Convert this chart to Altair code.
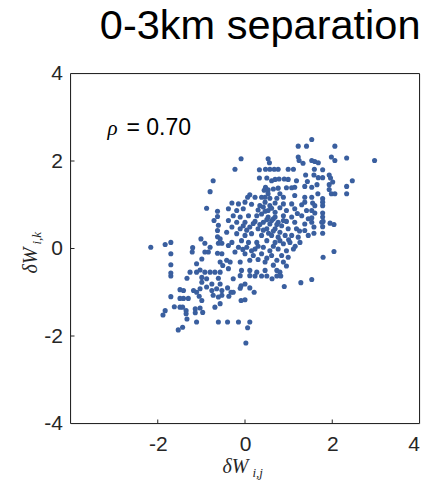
import altair as alt
import pandas as pd

# ---- data (delta W_ij , delta W_ik) ----
X = [-0.73, -0.80,
     1.22, 1.41, -0.09, 0.53, 0.56, 1.22, 1.24, 1.33, -0.23, 0.33, 0.47, 0.57, 0.67, 0.76, 0.99, 1.11, 0.33, 0.50,
     0.61, 0.69, 0.78, 0.90, 0.99, 1.18, 1.39, 1.43, 0.47, 0.44, 0.53, 0.65, 0.76, 0.95, 1.07, 1.14, 1.37, 0.53,
     0.80, 0.11, 0.06, 0.23, 0.38, 0.46, 0.57, 0.73, 0.88, 1.14, 1.37,
     1.53, 2.06, 1.98, 2.06, 2.33, 2.97, 1.53, 1.60, 1.68, 1.59, 1.78, 1.58, 1.68, 1.78, 1.93, 1.96, 2.01, 1.93,
     1.65, 1.53, 1.93, 2.33, 2.46, 1.67, 1.98, 2.06, 2.33, 1.53, 1.78,
     -0.88, -0.63, -0.63, -0.71, -0.61, -0.63, -0.63, -0.57, -0.61, -0.53, -1.01, -0.92, -0.80, -2.16, -1.83,
     -1.70, -1.70, -1.20, -1.21, -0.92, -0.84, -0.63, -0.53, -0.99, -1.11, -0.57, -0.51, -1.70, -1.70, -1.26,
     -1.03, -1.11, -0.92, -0.80, -0.69, -0.57,
     -0.30, -0.15, 0.00, 0.15, 0.46, 0.69, 0.88, 1.07, 1.37, -0.38, -0.19, -0.04, 0.30, 0.38, 0.53, 0.69, 0.80,
     0.95, 1.14, 1.41, -0.27, -0.11, 0.08, 0.27, 0.53, 0.65, 0.88, 1.07, 1.30, 1.45, -0.38, -0.19, 0.00, 0.23,
     0.42, 0.57, 0.76, 0.95, 1.14, 1.37, -0.30, -0.11, 0.11, 0.30, 0.50, 0.69, 0.80, 0.99, 1.18, 1.37, -0.42,
     -0.19, 0.00, 0.15, 0.38, 0.61, 0.76, 1.07, 1.22, 1.45, -0.30, -0.08, 0.08, 0.27, 0.50, 0.69, 0.88, 1.03,
     1.26, -0.38, -0.15, 0.04, 0.23, 0.42, 0.57, 0.76, 0.95, 1.11, -0.23, 0.00, 0.19, 0.38, 0.61, 0.84, 0.99,
     -0.42, -0.34, -0.11, 0.11, 0.46, 0.73, 0.88, -0.38, -0.08, 0.11, 0.27, 0.46, 0.73, 0.80,
     1.55, 1.60, 1.78, 1.78, 1.53, 1.60, 1.78, 1.53, 1.78, 1.76, 1.79, 1.95, 2.04, 1.53, 1.58, 1.78, 1.58, 1.78,
     2.04, 1.79,
     -1.70, -1.33, -0.99, -0.88, -0.61, -0.99, -0.76, -0.57, -0.88, -1.03, -1.49, -1.41, -1.18, -1.11, -0.76,
     -0.65, -0.53, -1.41, -1.49, -1.30, -1.05, -0.99, -0.73, -0.61, -0.53, -1.70, -1.62, -1.49, -1.43, -1.35,
     -1.35, -1.14, -1.14, -1.03, -0.97, -0.69, -0.57, -1.83, -1.88, -1.33, -1.11, -0.61, -1.43, -1.53,
     -0.27, -0.11, 0.11, 0.23, 0.38, 0.50, 0.62, 0.73, 0.82, 1.28, 0.90, -0.40, -0.09, -0.11, 0.00, 0.11, 0.21,
     -0.37, -0.32, -0.27, -0.09, 0.00, -0.40, -0.15, 0.11, 0.06, 0.02, 1.53,
     0.34, 0.42, 0.57, 0.61, 0.46, 0.50, 0.61, 0.69, 0.73, 0.84, 0.88, 0.65, 0.54, 0.42, 0.34, 0.19, 0.04,
     -0.04, 0.92, 1.00, 0.80, 0.65, 0.30, 0.15, -0.05, 0.50, 0.30, 0.65, 0.95, 1.15, 1.25, 1.20, 1.30]
Y = [1.55, 1.30,
     2.34, 2.34, 2.05, 2.05, 1.96, 2.09, 2.01, 1.95, 1.81, 1.80, 1.81, 1.81, 1.81, 1.81, 1.81, 1.81, 1.61, 1.61,
     1.55, 1.58, 1.59, 1.59, 1.58, 1.55, 1.68, 1.53, 1.40, 1.33, 1.34, 1.36, 1.38, 1.39, 1.39, 1.40, 1.42, 1.25,
     1.25, 1.23, 1.17, 1.17, 1.17, 1.17, 1.15, 1.15, 1.17, 1.21, 1.17,
     2.49, 2.34, 2.09, 2.01, 2.07, 2.01, 2.01, 1.99, 1.96, 1.81, 1.80, 1.68, 1.62, 1.62, 1.68, 1.61, 1.52, 1.46,
     1.46, 1.40, 1.35, 1.42, 1.55, 1.25, 1.25, 1.25, 1.25, 1.17, 1.14,
     0.92, 0.85, 0.73, 0.64, 0.53, 0.41, 0.27, 0.22, 0.12, 0.12, 0.22, 0.12, 0.03, 0.03, 0.09,
     0.14, -0.12, 0.02, -0.08, -0.08, -0.08, -0.11, -0.12, -0.24, -0.35, -0.31, -0.39, -0.37, -0.56, -0.54,
     -0.49, -0.54, -0.54, -0.54, -0.54, -0.54,
     1.04, 1.02, 1.06, 1.01, 1.06, 1.04, 1.02, 1.02, 1.06, 0.91, 0.87, 0.91, 0.88, 0.79, 0.87, 0.83, 0.93,
     0.87, 0.91, 0.87, 0.75, 0.72, 0.75, 0.75, 0.72, 0.68, 0.75, 0.72, 0.75, 0.68, 0.64, 0.60, 0.60, 0.62,
     0.60, 0.56, 0.60, 0.62, 0.60, 0.56, 0.49, 0.45, 0.49, 0.45, 0.45, 0.45, 0.37, 0.45, 0.45, 0.41, 0.37,
     0.34, 0.30, 0.34, 0.30, 0.30, 0.26, 0.30, 0.26, 0.30, 0.14, 0.18, 0.14, 0.14, 0.18, 0.14, 0.11, 0.14,
     0.14, 0.07, 0.03, 0.03, -0.01, 0.03, -0.05, -0.01, -0.05, -0.01, -0.08, -0.12, -0.16, -0.12, -0.16, -0.16, -0.20,
     -0.27, -0.31, -0.31, -0.27, -0.31, -0.27, -0.31, -0.46, -0.50, -0.50, -0.54, -0.50, -0.50, -0.54,
     1.04, 0.98, 1.06, 0.98, 0.87, 0.81, 0.81, 0.70, 0.72, 0.60, 0.62, 0.58, 0.55, 0.60, 0.49, 0.50, 0.35, 0.35,
     -0.07, -0.20,
     -0.63, -0.68, -0.66, -0.69, -0.68, -0.77, -0.81, -0.81, -0.88, -0.92, -0.94, -0.96, -0.96, -1.00, -0.96,
     -0.92, -0.96, -1.14, -1.14, -1.14, -1.09, -1.19, -1.07, -1.11, -1.07, -1.10, -1.33, -1.34, -1.34, -1.42,
     -1.49, -1.38, -1.47, -1.36, -1.46, -1.34, -1.26, -1.42, -1.52, -1.61, -1.68, -1.68, -1.80, -1.86,
     -0.69, -0.62, -0.62, -0.63, -0.63, -0.63, -0.69, -0.63, -0.63, -0.78, -0.87, -0.90, -0.85, -0.91, -0.81, -0.90, -1.00,
     -1.09, -1.00, -1.00, -1.19, -1.17, -1.68, -1.68, -1.68, -1.81, -2.16, -0.71,
     0.98, 0.95, 0.98, 0.92, 0.85, 0.66, 0.64, 0.72, 0.55, 0.52, 0.64, 0.40, 0.35, 0.42, 0.55, 0.57, 0.42,
     0.52, 0.30, 0.20, 0.18, 0.05, 0.05, -0.05, -0.02, -0.22, -0.25, -0.38, -0.40, 0.05, 0.40, 0.80, 1.00]

X_TICKS = [-2, 0, 2, 4]
Y_TICKS = [-4, -2, 0, 2, 4]
TITLE = "0-3km separation"
RHO_TEXT = "= 0.70"

W, H = 349, 350
INK = "#262626"
DOT = "#3A5F9F"

df = pd.DataFrame({"x": X[:len(Y)], "y": Y[:len(X)]})
xs = alt.Scale(domain=[-4, 4], nice=False, zero=False)
ys = alt.Scale(domain=[-4, 4], nice=False, zero=False)

LBL = "'' + datum.value"
points = alt.Chart(df).mark_circle(size=26, color=DOT, opacity=1).encode(
    x=alt.X("x:Q", scale=xs, axis=alt.Axis(values=X_TICKS, title=None, grid=False, domain=False,
                                           ticks=False, labelPadding=10, labelFontSize=21, labelExpr=LBL,
                                           labelFont="Liberation Sans", labelColor=INK)),
    y=alt.Y("y:Q", scale=ys, axis=alt.Axis(values=Y_TICKS, title=None, grid=False, domain=False,
                                           ticks=False, labelPadding=8, labelFontSize=21, labelExpr=LBL,
                                           labelFont="Liberation Sans", labelColor=INK)),
)

xt = pd.DataFrame({"x": [-2, 0, 2]})
yt = pd.DataFrame({"y": [-2, 0, 2]})
xticks_b = alt.Chart(xt).mark_rule(color=INK, strokeWidth=1).encode(
    x=alt.X("x:Q", scale=xs, title=None), y=alt.value(H), y2=alt.value(H - 4))
yticks_l = alt.Chart(yt).mark_rule(color=INK, strokeWidth=1).encode(
    y=alt.Y("y:Q", scale=ys, title=None), x=alt.value(0), x2=alt.value(4))

# box around the plot area (drawn through the scales at the domain limits)
box = pd.DataFrame({"x0": [-4, -4, -4, 4], "x1": [4, 4, -4, 4], "y0": [-4, 4, -4, -4], "y1": [-4, 4, 4, 4]})
frame = alt.Chart(box).mark_rule(color=INK, strokeWidth=1).encode(
    x=alt.X("x0:Q", scale=xs, title=None), x2="x1:Q",
    y=alt.Y("y0:Q", scale=ys, title=None), y2="y1:Q")

one = pd.DataFrame({"t": [0]})

def txt(text, x, y, size, font="Liberation Sans", style="normal", align="left", angle=0, color="black"):
    return alt.Chart(one).mark_text(text=text, align=align, baseline="alphabetic", fontSize=size,
                                    font=font, fontStyle=style, angle=angle, color=color).encode(
        x=alt.value(x), y=alt.value(y))

title = txt(TITLE, W + 1, -35, 41.5, align="right")
rho1 = txt("ρ", 37, 61, 21, font="Liberation Serif", style="italic")
rho2 = txt(RHO_TEXT, 56, 61, 23)
xl1 = txt("δW", 152, 399, 20, font="Liberation Serif", style="italic", color=INK)
xl2 = txt("i,j", 182, 403, 13, font="Liberation Serif", style="italic", color=INK)
yl1 = txt("δW", -34, 200, 20, font="Liberation Serif", style="italic", angle=270, color=INK)
yl2 = txt("i,k", -30, 171, 13, font="Liberation Serif", style="italic", angle=270, color=INK)

chart = alt.layer(points, frame, xticks_b, yticks_l, title, rho1, rho2, xl1, xl2, yl1, yl2).properties(
    width=W, height=H,
    autosize=alt.AutoSizeParams(type="none"),
    padding={"left": 70.5, "top": 73.5, "right": 6.5, "bottom": 59.5},
).configure_view(stroke=None).configure(background="white")

chart.save("out.html", embed_options={"renderer": "svg", "actions": False})
